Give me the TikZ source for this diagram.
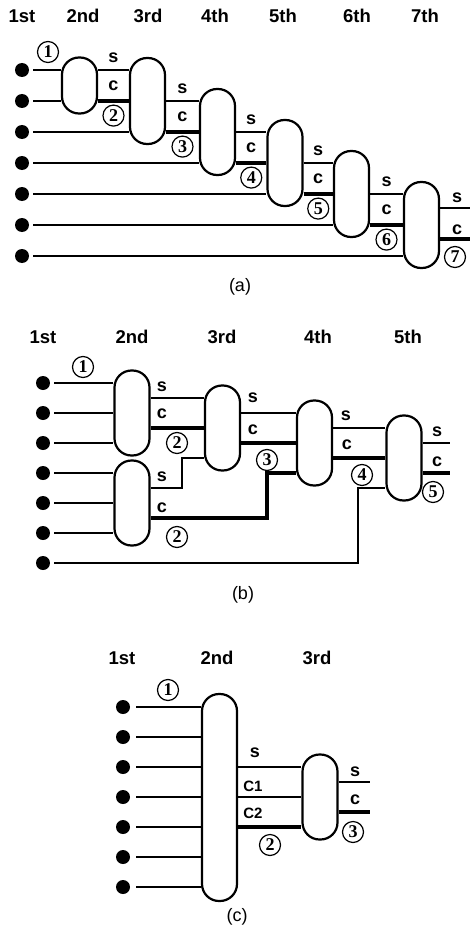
\documentclass[tikz,border=0pt]{standalone}
\usepackage{fontspec}
\setmainfont{Liberation Sans}
\newfontfamily\numfont{Liberation Serif}
\usepackage{tikz}
\usetikzlibrary{calc,positioning}
\tikzset{
  wire/.style={line width=1.6pt},
  mwire/.style={line width=2.3pt},
  cwire/.style={line width=3.2pt},
  adder/.style={draw,line width=2.2pt,rectangle,rounded corners=17pt,minimum width=35pt,minimum height=85pt,inner sep=0pt},
  bullet/.style={circle,fill,inner sep=0pt,minimum size=14pt,outer sep=4pt},
  lbl/.style={font=\bfseries\fontsize{18}{18}\selectfont,inner sep=0pt},
  lbl2/.style={font=\bfseries\fontsize{15}{15}\selectfont,inner sep=0pt},
  cnum/.style={circle,draw,line width=1.2pt,inner sep=0pt,minimum size=21pt,font=\numfont\bfseries\fontsize{18}{18}\selectfont},
  hdr/.style={font=\bfseries\fontsize{18.5}{20}\selectfont},
  capt/.style={font=\fontsize{18}{18}\selectfont}
}
\begin{document}
\begin{tikzpicture}[x=1pt,y=-1pt]
\useasboundingbox (0,0) rectangle (470,931);
% ---------- (a) ----------
\foreach \t/\x in {1st/22,2nd/83,3rd/148,4th/215,5th/283,6th/357,7th/425}
  \node[hdr] (ha\t) at (\x,16) {\t};
\foreach \i in {1,...,7}
  \node[bullet] (p\i) at (22,{39+31*\i}) {};
\node[adder,minimum height=56pt] (a2) at (79.5,85.5) {};
\foreach \k/\x in {3/147.5,4/217.5,5/285,6/351.5,7/421.5}
  \node[adder,minimum height=86pt] (a\k) at (\x,{39+31*(\k-1)}) {};
\foreach \i/\k in {1/2,2/2,3/3,4/4,5/5,6/6,7/7}
  \draw[wire] (p\i) -- (p\i -| a\k.west);
\foreach \m/\k/\n in {1/2/3,2/3/4,3/4/5,4/5/6,5/6/7} {
  \draw[wire] (a\k.east |- p\m) -- (a\n.west |- p\m);
  \draw[cwire] (a\k.east |- p\k) -- (a\n.west |- p\k);
  \node[lbl,above=7pt] (sa\k) at ($(a\k.east |- p\m)!.5!(a\n.west |- p\m)$) {s};
  \node[lbl] (ca\k) at ($(a\k.east |- p\m)!.5!(a\n.west |- p\k)$) {c};
  \node[cnum,below=3.5pt] (na\k) at ($(a\k.east |- p\k)!.5!(a\n.west |- p\k)$) {\k};
}
\coordinate (oa1) at (470,208);
\coordinate (oa2) at (470,239);
\draw[wire] (a7.east |- oa1) -- (oa1);
\draw[cwire] (a7.east |- oa2) -- (oa2);
\node[lbl] (sa7) at (457,198) {s};
\node[lbl] (ca7) at (457,230) {c};
\node[cnum] (na7) at (455,257) {7};
\node[cnum] (na1) at (48,52) {1};
\node[capt] (la) at (240,287) {(a)};
% ---------- (b) ----------
\foreach \t/\x in {1st/43,2nd/132,3rd/222,4th/318,5th/408}
  \node[hdr] (hb\t) at (\x,337) {\t};
\foreach \i in {1,...,7}
  \node[bullet] (q\i) at (43,{353+30*\i}) {};
\node[adder] (b2) at (132,413) {};
\node[adder] (bb) at (132,503) {};
\node[adder] (b3) at (222.5,428) {};
\node[adder] (b4) at (314.5,443) {};
\node[adder] (b5) at (404,458) {};
\foreach \i in {1,2,3} \draw[wire] (q\i) -- (q\i -| b2.west);
\foreach \i in {4,5,6} \draw[wire] (q\i) -- (q\i -| bb.west);
\coordinate (kb1) at (182,458);
\coordinate (kb2) at (267,473);
\coordinate (kb3) at (358,488);
\draw[wire] ([yshift=15pt]b2.east) -- ([yshift=30pt]b3.west);
\draw[cwire] ([yshift=-15pt]b2.east) -- (b3.west);
\draw[wire] ([yshift=15pt]bb.east) -| (kb1) -- (kb1 -| b3.west);
\draw[cwire] ([yshift=-15pt]bb.east) -| (kb2) -- (kb2 -| b4.west);
\draw[wire] ([yshift=15pt]b3.east) -- ([yshift=30pt]b4.west);
\draw[cwire] ([yshift=-15pt]b3.east) -- (b4.west);
\draw[wire] ([yshift=15pt]b4.east) -- ([yshift=30pt]b5.west);
\draw[cwire] ([yshift=-15pt]b4.east) -- (b5.west);
\draw[wire] (q7) -| (kb3) -- (kb3 -| b5.west);
\coordinate (ob1) at (450,443);
\coordinate (ob2) at (450,473);
\draw[wire] (b5.east |- ob1) -- (ob1);
\draw[cwire] (b5.east |- ob2) -- (ob2);
\node[cnum] (nb1) at (83,367) {1};
\node[lbl] (sb2) at (162,387) {s};
\node[lbl] (cb2) at (162,414) {c};
\node[cnum] (nb2) at (177,443) {2};
\node[lbl] (sbb) at (162,477) {s};
\node[lbl] (cbb) at (162,508) {c};
\node[cnum] (nbb) at (177,537) {2};
\node[lbl] (sb3) at (253,398) {s};
\node[lbl] (cb3) at (253,430) {c};
\node[cnum] (nb3) at (267,460) {3};
\node[lbl] (sb4) at (346,416) {s};
\node[lbl] (cb4) at (347,445) {c};
\node[cnum] (nb4) at (362,475) {4};
\node[lbl] (sb5) at (437,432) {s};
\node[lbl] (cb5) at (437,462) {c};
\node[cnum] (nb5) at (433,492) {5};
\node[capt] (lb) at (243,595) {(b)};
% ---------- (c) ----------
\foreach \t/\x in {1st/122,2nd/217,3rd/317}
  \node[hdr] (hc\t) at (\x,658) {\t};
\foreach \i in {1,...,7}
  \node[bullet,outer sep=6pt] (r\i) at (123,{677+30*\i}) {};
\node[adder,minimum height=207pt] (c2) at (219.5,797.5) {};
\node[adder] (c3) at (320,797) {};
\foreach \i in {1,...,7} \draw[wire] (r\i) -- (r\i -| c2.west);
\draw[wire] (c2.east |- r3) -- (c3.west |- r3);
\draw[mwire] (c2.east |- r4) -- (c3.west |- r4);
\draw[cwire] (c2.east |- r5) -- (c3.west |- r5);
\coordinate (oc1) at (370,782);
\coordinate (oc2) at (370,812);
\draw[wire] (c3.east |- oc1) -- (oc1);
\draw[cwire] (c3.east |- oc2) -- (oc2);
\node[cnum] (nc1) at (168,690) {1};
\node[lbl] (sc2) at (255,753) {s};
\node[lbl2] (k1c) at (253,786) {C1};
\node[lbl2] (k2c) at (253,813) {C2};
\node[cnum] (nc2) at (270,845) {2};
\node[lbl] (sc3) at (355,772) {s};
\node[lbl] (cc3) at (355,800) {c};
\node[cnum] (nc3) at (353,832) {3};
\node[capt] (lc) at (237,917) {(c)};
\end{tikzpicture}
\end{document}
